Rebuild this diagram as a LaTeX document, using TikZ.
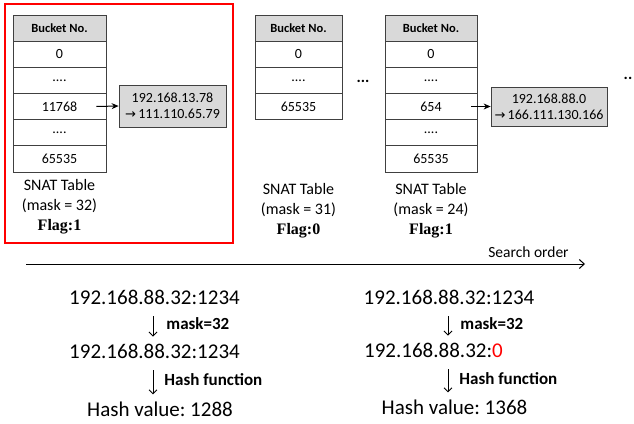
\documentclass[tikz,border=0pt]{standalone}
\usepackage{fontspec}
\setmainfont{Carlito}
\newfontfamily\timesf{Liberation Serif}
\newfontfamily\dejavu{DejaVu Sans}
\usetikzlibrary{arrows.meta}
\frenchspacing
\begin{document}
\begin{tikzpicture}[x=1pt,y=-1pt,
 cell/.style={draw=black!75, line width=0.8pt, minimum height=26.17pt, inner sep=0pt, font=\fontsize{14}{16}\selectfont},
 hdr/.style={cell, fill=black!15, font=\fontsize{12.5}{14}\selectfont\bfseries},
 gbox/.style={draw=black!75, line width=0.8pt, fill=black!15, align=center, inner sep=0pt, font=\fontsize{14}{16}\selectfont},
 captxt/.style={align=center, inner sep=0pt, font=\fontsize{16}{20}\selectfont},
 big/.style={font=\fontsize{21}{24}\selectfont, inner sep=0pt},
 lbl/.style={font=\fontsize{17}{20}\selectfont\bfseries, inner sep=0pt, anchor=west},
 ptr/.style={-{Stealth[length=7pt,width=6pt]}, line width=1pt},
 down/.style={-{Straight Barb[length=4pt,width=8pt]}, line width=0.9pt},
 dots/.style={font=\fontsize{16}{18}\selectfont\bfseries, inner sep=0pt},
]
\useasboundingbox (0,0) rectangle (634,423);

% red frame
\node[draw=red, line width=2pt, minimum width=228pt, minimum height=239pt, inner sep=0pt] (frame) at (119,123.5) {};

% table 1
\node[hdr, minimum width=93pt] (t1h) at (59.5,28.1) {Bucket No.};
\node[cell, minimum width=93pt] (t1a) at (59.5,54.2) {0};
\node[cell, minimum width=93pt] (t1b) at (59.5,80.4) {....};
\node[cell, minimum width=93pt] (t1c) at (59.5,106.5) {11768};
\node[cell, minimum width=93pt] (t1d) at (59.5,132.7) {....};
\node[cell, minimum width=93pt] (t1e) at (59.5,158.9) {65535};
\node[gbox, minimum width=107pt, minimum height=42pt] (b1) at (172.5,106) {192.168.13.78\\{\dejavu\fontsize{13}{16}\selectfont →}\,111.110.65.79};
\draw[ptr] ([xshift=-10pt]t1c.east) -- (b1.west);
\node[captxt] (c1) at (59.5,207) {SNAT Table\\(mask = 32)\\{\timesf\bfseries Flag:1}};

% table 2
\node[hdr, minimum width=87pt] (t2h) at (298.5,28.1) {Bucket No.};
\node[cell, minimum width=87pt] (t2a) at (298.5,54.2) {0};
\node[cell, minimum width=87pt] (t2b) at (298.5,80.4) {....};
\node[cell, minimum width=87pt] (t2c) at (298.5,106.5) {65535};
\node[captxt] (c2) at (298.5,211) {SNAT Table\\(mask = 31)\\{\timesf\bfseries Flag:0}};
\node[dots] (d1) at (363,81) {...};

% table 3
\node[hdr, minimum width=92pt] (t3h) at (431,28.1) {Bucket No.};
\node[cell, minimum width=92pt] (t3a) at (431,54.2) {0};
\node[cell, minimum width=92pt] (t3b) at (431,80.4) {....};
\node[cell, minimum width=92pt] (t3c) at (431,106.5) {654};
\node[cell, minimum width=92pt] (t3d) at (431,132.7) {....};
\node[cell, minimum width=92pt] (t3e) at (431,158.9) {65535};
\node[gbox, minimum width=116pt, minimum height=39pt] (b3) at (549,106.5) {192.168.88.0\\{\dejavu\fontsize{13}{16}\selectfont →}\,166.111.130.166};
\draw[ptr] ([xshift=-6pt]t3c.east) -- (b3.west);
\node[captxt] (c3) at (431,211) {SNAT Table\\(mask = 24)\\{\timesf\bfseries Flag:1}};
\node[dots] (d2) at (628,78) {..};

% search order
\coordinate (sa) at (26,264);
\coordinate (sb) at (585,264);
\draw[-{Straight Barb[length=5pt,width=9pt]}, line width=1pt] (sa) -- (sb);
\node[font=\fontsize{15.5}{18}\selectfont, inner sep=0pt] (so) at (528.5,252) {Search order};

% left computation
\node[big] (l1) at (154.5,297) {192.168.88.32:1234};
\node[big] (l2) at (154.5,351) {192.168.88.32:1234};
\node[big] (l3) at (160,409) {Hash value: 1288};
\draw[down, shorten <=12pt, shorten >=7pt] ([xshift=-1.5pt]l1.south) -- ([xshift=-1.5pt]l2.north)
  node[lbl, midway, xshift=13pt] (m1) {mask=32};
\draw[down, shorten <=12pt, shorten >=7pt] ([xshift=-1.5pt]l2.south) -- ([xshift=-1.5pt]l2.south |- l3.north)
  node[lbl, midway, xshift=11pt] (h1) {Hash function};

% right computation
\node[big] (r1) at (449,297) {192.168.88.32:1234};
\node[big, anchor=west] (r2) at (364,350) {192.168.88.32:\textcolor{red}{0}};
\node[big] (r3) at (454.5,407) {Hash value: 1368};
\draw[down, shorten <=12pt, shorten >=7pt] ([xshift=-1pt]r1.south) -- ([xshift=-1pt]r1.south |- r2.north)
  node[lbl, midway, xshift=12pt] (m2) {mask=32};
\draw[down, shorten <=12pt, shorten >=7pt] ([xshift=-1pt]r1.south |- r2.south) -- ([xshift=-1pt]r1.south |- r3.north)
  node[lbl, midway, xshift=11pt] (h2) {Hash function};
\end{tikzpicture}
\end{document}
